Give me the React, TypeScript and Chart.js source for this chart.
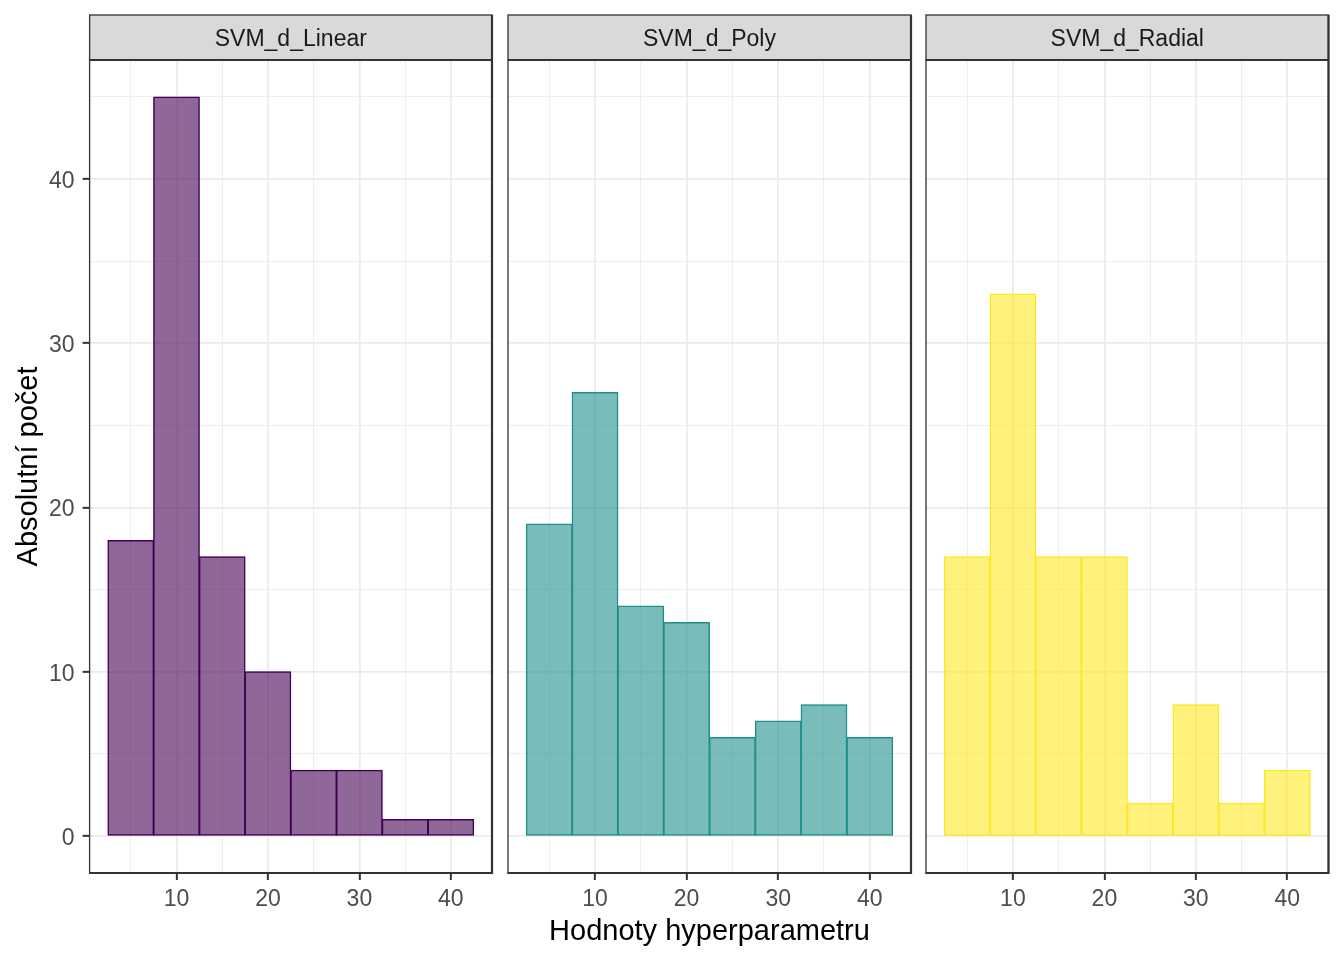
import React, { useEffect, useRef } from "react";
import { Chart, registerables } from "chart.js";

Chart.register(...registerables);

// ---- data ----
const binCenters = [5, 10, 15, 20, 25, 30, 35, 40];
const linearCounts = [18, 45, 17, 10, 4, 4, 1, 1];
const polyCounts = [19, 27, 14, 13, 6, 7, 8, 6];
const radialCounts = [17, 33, 17, 17, 2, 8, 2, 4];
const panelTitles = ["SVM_d_Linear", "SVM_d_Poly", "SVM_d_Radial"];
const xTickValues = [5, 10, 15, 20, 25, 30, 35, 40];
const yTickValues = [0, 5, 10, 15, 20, 25, 30, 35, 40, 45];
const xTitle = "Hodnoty hyperparametru";
const yTitle = "Absolutní počet";

const FONT = "'Liberation Sans', Arial, Helvetica, sans-serif";
Chart.defaults.font.family = FONT;

const stripPlugin = {
  id: "strip",
  afterDraw(chart: any, _args: any, opts: any) {
    const { ctx, chartArea: a } = chart;
    ctx.save();
    const top = 15;
    const w = a.right - a.left;
    // strip
    ctx.fillStyle = "#D9D9D9";
    ctx.fillRect(a.left, top, w, a.top - top);
    ctx.strokeStyle = "#333333";
    ctx.lineWidth = 1.3;
    ctx.strokeRect(a.left, top, w, a.top - top);
    // panel border
    ctx.strokeRect(a.left, a.top, w, a.bottom - a.top);
    ctx.lineWidth = 2.2;
    ctx.beginPath();
    ctx.moveTo(a.left - 0.5, a.bottom);
    ctx.lineTo(a.right, a.bottom);
    ctx.lineTo(a.right, top);
    ctx.moveTo(a.left, a.top);
    ctx.lineTo(a.right, a.top);
    ctx.stroke();
    // strip text
    ctx.fillStyle = "#1A1A1A";
    ctx.font = `23px ${FONT}`;
    ctx.textAlign = "center";
    ctx.textBaseline = "middle";
    ctx.fillText(opts.title, (a.left + a.right) / 2, (top + a.top) / 2 + 2.5);
    ctx.restore();
  },
};

const isMajor = (ctx: any) => ctx && ctx.tick && ctx.tick.value % 10 === 0;

type PanelCfg = {
  left: number;
  width: number;
  yWidth: number;
  padRight: number;
  counts: number[];
  fill: string;
  stroke: string;
  title: string;
  showY: boolean;
  showXTitle: boolean;
};

const panels: PanelCfg[] = [
  { left: 0, width: 500, yWidth: 89.6, padRight: 8, counts: linearCounts, fill: "rgba(68,1,84,0.6)", stroke: "#440154", title: panelTitles[0], showY: true, showXTitle: false },
  { left: 500, width: 418, yWidth: 8, padRight: 7, counts: polyCounts, fill: "rgba(33,144,140,0.6)", stroke: "#21908C", title: panelTitles[1], showY: false, showXTitle: true },
  { left: 918, width: 426, yWidth: 8, padRight: 15.5, counts: radialCounts, fill: "rgba(253,231,37,0.6)", stroke: "#FDE725", title: panelTitles[2], showY: false, showXTitle: false },
];

function Panel({ cfg }: { cfg: PanelCfg }) {
  const ref = useRef<HTMLCanvasElement>(null);
  useEffect(() => {
    if (!ref.current) return;
    const chart = new Chart(ref.current, {
      type: "bar",
      data: {
        datasets: [
          {
            data: binCenters.map((x, i) => ({ x, y: cfg.counts[i] })),
            backgroundColor: cfg.fill,
            borderColor: cfg.stroke,
            borderWidth: 0.5,
            borderSkipped: false,
            barPercentage: 1,
            categoryPercentage: 1,
            inflateAmount: 0.5,
          } as any,
        ],
      },
      options: {
        animation: false,
        responsive: true,
        maintainAspectRatio: false,
        layout: { padding: { top: 60, right: cfg.padRight, left: 0, bottom: 0 } },
        plugins: {
          legend: { display: false },
          tooltip: { enabled: false },
          strip: { title: cfg.title },
        } as any,
        scales: {
          x: {
            type: "linear",
            min: 0.5,
            max: 44.5,
            offset: false,
            afterBuildTicks: (s: any) => {
              s.ticks = xTickValues.map((v) => ({ value: v }));
            },
            afterFit: (s: any) => {
              s.height = 87;
            },
            ticks: {
              autoSkip: false,
              maxRotation: 0,
              minRotation: 0,
              callback: (v: any) => (Number(v) % 10 === 0 ? String(v) : ""),
              color: "#4D4D4D",
              font: { size: 23 },
              padding: 6,
            },
            grid: {
              offset: false,
              color: "#EBEBEB",
              lineWidth: (c: any) => (isMajor(c) ? 1.7 : 0.85),
              tickColor: (c: any) => (isMajor(c) ? "#333333" : "rgba(0,0,0,0)"),
              tickLength: 7,
              tickWidth: 2,
            },
            border: { display: false },
            title: {
              display: cfg.showXTitle,
              text: xTitle,
              color: "#000000",
              font: { size: 29 },
              padding: { top: 0, bottom: 11 },
            },
          },
          y: {
            type: "linear",
            min: -2.25,
            max: 47.25,
            afterBuildTicks: (s: any) => {
              s.ticks = yTickValues.map((v) => ({ value: v }));
            },
            afterFit: (s: any) => {
              s.width = cfg.yWidth;
            },
            ticks: {
              display: cfg.showY,
              autoSkip: false,
              callback: (v: any) => (Number(v) % 10 === 0 ? String(v) : ""),
              color: "#4D4D4D",
              font: { size: 23 },
              padding: 8,
              labelOffset: 2.5,
            },
            grid: {
              color: "#EBEBEB",
              lineWidth: (c: any) => (isMajor(c) ? 1.7 : 0.85),
              tickColor: (c: any) => (isMajor(c) ? "#333333" : "rgba(0,0,0,0)"),
              drawTicks: cfg.showY,
              tickLength: 7,
              tickWidth: 2,
            },
            border: { display: false },
            title: {
              display: cfg.showY,
              text: yTitle,
              color: "#000000",
              font: { size: 29 },
              padding: { top: 12, bottom: 0 },
            },
          },
        },
      } as any,
      plugins: [stripPlugin as any],
    });
    return () => chart.destroy();
  }, [cfg]);

  return (
    <div style={{ position: "absolute", left: cfg.left, top: 0, width: cfg.width, height: 960 }}>
      <canvas ref={ref} />
    </div>
  );
}

export default function App() {
  return (
    <div style={{ position: "absolute", left: 0, top: 0, width: 1344, height: 960, background: "#FFFFFF" }}>
      {panels.map((p, i) => (
        <Panel key={i} cfg={p} />
      ))}
    </div>
  );
}
